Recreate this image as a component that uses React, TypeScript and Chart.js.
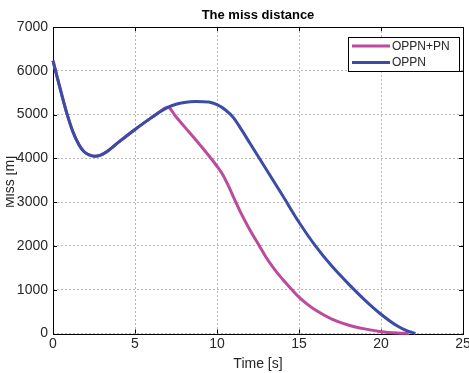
import React, { useEffect, useRef } from "react";
import { Chart, registerables } from "chart.js";

Chart.register(...registerables);

// Miss distance over time for the two guidance laws
const oppnTime = [0, 0.25, 0.5, 0.85, 1.2, 1.6, 1.9, 2.2, 2.55, 2.9, 3.25, 4, 5, 6, 6.5, 7, 7.5, 8, 8.7, 9.5, 10, 10.5, 11, 11.5, 12, 13, 14, 15, 16, 17, 18, 19, 20, 21, 21.6, 22.1];
const oppnMiss = [6230, 5860, 5500, 5020, 4620, 4300, 4150, 4080, 4050, 4075, 4145, 4370, 4660, 4930, 5060, 5165, 5235, 5278, 5300, 5285, 5225, 5110, 4930, 4650, 4350, 3750, 3150, 2540, 2000, 1540, 1140, 770, 440, 170, 60, 0];

const pnTime = [0, 0.25, 0.5, 0.85, 1.2, 1.6, 1.9, 2.2, 2.55, 2.9, 3.25, 4, 5, 6, 6.5, 7, 7.5, 8, 9, 10, 10.3, 10.7, 11, 11.5, 12, 12.6, 13, 13.6, 14, 14.5, 15, 15.5, 16, 17, 18, 19, 20, 21, 21.7];
const pnMiss = [6230, 5860, 5500, 5020, 4620, 4300, 4150, 4080, 4050, 4075, 4145, 4370, 4660, 4930, 5060, 5165, 4950, 4730, 4290, 3820, 3660, 3370, 3120, 2720, 2370, 1990, 1735, 1420, 1240, 1030, 830, 670, 535, 330, 195, 105, 42, 10, 0];

const seriesNames = ["OPPN+PN", "OPPN"];
const seriesColors = ["#BE4A9E", "#3A4CA6"];

const titleText = "The miss distance";
const xTitle = "Time [s]";
const yTitle = "Miss [m]";

const FONT = "'Liberation Sans', Arial, Helvetica, sans-serif";
const TEXT = "#262626";

const toPoints = (t: number[], v: number[]) => t.map((x, i) => ({ x, y: v[i] }));

// Frame, inward tick marks, title, rotated y label and legend box
const decorations = {
  id: "decorations",
  beforeDatasetsDraw(chart: any) {
    const { ctx, chartArea: a, scales } = chart;
    ctx.save();
    ctx.strokeStyle = "#000";
    ctx.lineWidth = 1;
    ctx.strokeRect(Math.round(a.left) + 0.5, Math.round(a.top) + 0.5, Math.round(a.right - a.left), Math.round(a.bottom - a.top));
    const tl = 4;
    ctx.beginPath();
    scales.x.ticks.forEach((t: any) => {
      const px = Math.round(scales.x.getPixelForValue(t.value)) + 0.5;
      ctx.moveTo(px, a.bottom);
      ctx.lineTo(px, a.bottom - tl);
      ctx.moveTo(px, a.top);
      ctx.lineTo(px, a.top + tl);
    });
    scales.y.ticks.forEach((t: any) => {
      const py = Math.round(scales.y.getPixelForValue(t.value)) + 0.5;
      ctx.moveTo(a.left, py);
      ctx.lineTo(a.left + tl, py);
      ctx.moveTo(a.right, py);
      ctx.lineTo(a.right - tl, py);
    });
    ctx.stroke();
    ctx.restore();
  },
  afterDraw(chart: any) {
    const { ctx, chartArea: a } = chart;
    ctx.save();
    // title
    ctx.fillStyle = "#000";
    ctx.font = `bold 13px ${FONT}`;
    ctx.textAlign = "center";
    ctx.textBaseline = "middle";
    ctx.fillText(titleText, (a.left + a.right) / 2, 15);

    // y axis label, cut at the left edge of the figure
    ctx.save();
    ctx.beginPath();
    ctx.rect(6, 0, 40, chart.height);
    ctx.clip();
    ctx.translate(13.5, 182);
    ctx.rotate(-Math.PI / 2);
    ctx.fillStyle = TEXT;
    ctx.font = `14px ${FONT}`;
    ctx.textAlign = "center";
    ctx.textBaseline = "alphabetic";
    ctx.fillText(yTitle, 0, 0);
    ctx.restore();

    // legend
    const bx = 348.5, by = 37.5, bw = 111, bh = 34;
    ctx.fillStyle = "#fff";
    ctx.fillRect(bx, by, bw, bh);
    ctx.strokeStyle = "#000";
    ctx.lineWidth = 1;
    ctx.strokeRect(bx, by, bw, bh);
    ctx.font = `12px ${FONT}`;
    ctx.textAlign = "left";
    ctx.textBaseline = "middle";
    seriesNames.forEach((name, i) => {
      const y = 46 + i * 16.5;
      ctx.strokeStyle = seriesColors[i];
      ctx.lineWidth = 3;
      ctx.beginPath();
      ctx.moveTo(352, y);
      ctx.lineTo(390, y);
      ctx.stroke();
      ctx.fillStyle = TEXT;
      ctx.fillText(name, 392, y + 0.5);
    });
    ctx.restore();
  },
};

export default function App() {
  const ref = useRef<HTMLCanvasElement | null>(null);

  useEffect(() => {
    if (!ref.current) return;
    const chart = new Chart(ref.current, {
      type: "line",
      data: {
        datasets: [
          {
            label: seriesNames[0],
            data: toPoints(pnTime, pnMiss),
            borderColor: seriesColors[0],
            borderWidth: 3,
            pointRadius: 0,
            cubicInterpolationMode: "monotone",
            clip: 8,
            order: 1,
          },
          {
            label: seriesNames[1],
            data: toPoints(oppnTime, oppnMiss),
            borderColor: seriesColors[1],
            borderWidth: 3,
            pointRadius: 0,
            cubicInterpolationMode: "monotone",
            clip: 8,
            order: 0,
          },
        ],
      },
      options: {
        responsive: false,
        animation: false,
        layout: { padding: { left: 0, right: 17, top: 27, bottom: 0 } },
        plugins: {
          legend: { display: false },
          tooltip: { enabled: false },
          title: { display: false },
        },
        scales: {
          x: {
            type: "linear",
            min: 0,
            max: 25,
            afterFit: (s: any) => { s.height = 39.5; },
            ticks: { stepSize: 5, color: TEXT, font: { family: FONT, size: 14 }, padding: 2, maxRotation: 0, callback: (v: any) => String(v) },
            grid: { color: "rgba(0,0,0,0.28)", drawTicks: false, lineWidth: 1 },
            border: { display: false, dash: [2, 2] },
            title: { display: true, text: xTitle, color: TEXT, font: { family: FONT, size: 14 }, padding: { top: 0, bottom: 0 } },
          },
          y: {
            min: 0,
            max: 7000,
            afterFit: (s: any) => { s.width = 53; },
            ticks: { stepSize: 1000, color: TEXT, font: { family: FONT, size: 14 }, padding: 5, callback: (v: any) => String(v) },
            grid: { color: "rgba(0,0,0,0.28)", drawTicks: false, lineWidth: 1 },
            border: { display: false, dash: [2, 2] },
          },
        },
      },
      plugins: [decorations],
    });
    return () => chart.destroy();
  }, []);

  return (
    <div style={{ position: "absolute", left: 0, top: 0, width: 469, height: 373, overflow: "hidden", background: "#fff" }}>
      <canvas ref={ref} width={480} height={373} style={{ width: 480, height: 373, display: "block" }} />
    </div>
  );
}
